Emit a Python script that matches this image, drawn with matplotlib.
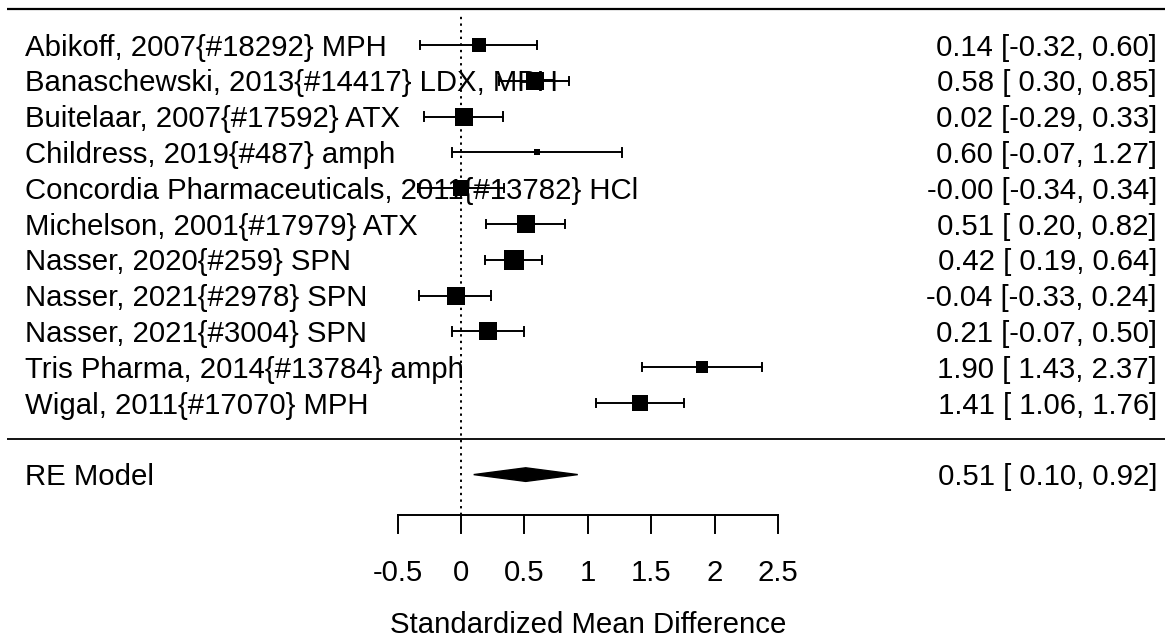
import numpy as np
import matplotlib
matplotlib.use("Agg")
import matplotlib.pyplot as plt
from matplotlib.patches import Polygon

# ---------------- data ----------------
studies = [
    "Abikoff, 2007{#18292} MPH",
    "Banaschewski, 2013{#14417} LDX, MPH",
    "Buitelaar, 2007{#17592} ATX",
    "Childress, 2019{#487} amph",
    "Concordia Pharmaceuticals, 2011{#13782} HCl",
    "Michelson, 2001{#17979} ATX",
    "Nasser, 2020{#259} SPN",
    "Nasser, 2021{#2978} SPN",
    "Nasser, 2021{#3004} SPN",
    "Tris Pharma, 2014{#13784} amph",
    "Wigal, 2011{#17070} MPH",
]
estimates = [0.14, 0.58, 0.02, 0.60, -0.001, 0.51, 0.42, -0.04, 0.21, 1.90, 1.41]
ci_lower = [-0.32, 0.30, -0.29, -0.07, -0.34, 0.20, 0.19, -0.33, -0.07, 1.43, 1.06]
ci_upper = [0.60, 0.85, 0.33, 1.27, 0.34, 0.82, 0.64, 0.24, 0.50, 2.37, 1.76]
model_label = "RE Model"
model_est = 0.51
model_lower = 0.10
model_upper = 0.92
xticks = [-0.5, 0, 0.5, 1, 1.5, 2, 2.5]
xtick_labels = ["-0.5", "0", "0.5", "1", "1.5", "2", "2.5"]
xlabel = "Standardized Mean Difference"

# ---------------- layout ----------------
W, H, DPI = 1165, 637, 100
fig = plt.figure(figsize=(W / DPI, H / DPI), dpi=DPI)
ax = fig.add_axes([0, 0, 1, 1])
ax.set_axis_off()

x0_px, unit_px = 461.0, 126.9      # pixel of x=0 and px per unit
row_px, top_row_px = 35.8, 45.0    # row spacing, pixel of first study row
k = len(studies)
ax.set_xlim(-x0_px / unit_px, (W - x0_px) / unit_px)
ax.set_ylim(k - (H - top_row_px) / row_px, k + top_row_px / row_px)

FS = 21.2
FONT = "Liberation Sans"
cap_shift = 0.716 * FS / 0.72 / 2 / row_px   # half cap height in rows
rows = np.arange(k, 0, -1)

# marker sizes from random-effects (REML) weights, metafor style (plim 0.5-1.5)
est = np.array(estimates)
se = (np.array(ci_upper) - np.array(ci_lower)) / (2 * 1.959964)
vi = se ** 2
tau2 = 0.1
for _ in range(200):
    w = 1 / (vi + tau2)
    mu = np.sum(w * est) / np.sum(w)
    tau2 = max(0.0, np.sum(w ** 2 * ((est - mu) ** 2 - vi)) / np.sum(w ** 2) + 1 / np.sum(w))
wi = 1 / (vi + tau2)
psize = (wi - wi.min()) / (wi.max() - wi.min()) * 1.0 + 0.5

ytr = ax.get_yaxis_transform()

# horizontal rules
for yy, lw in [(k + 1, 1.6), (0, 1.3)]:
    ax.plot([7 / W, 1.0], [yy, yy], transform=ytr, color="black", lw=lw,
            solid_capstyle="butt", zorder=1)

# reference line
ax.plot([0, 0], [-2.13, k + 0.85], color="black", lw=1.4, ls=(0, (1.2, 2.2)), zorder=1)

# labels and annotations
def fmt_col(vals):
    s = [f"{v:.2f}" for v in vals]
    w = max(len(t) for t in s)
    return [t.rjust(w) for t in s]

lb_s = fmt_col(ci_lower + [model_lower])
ub_s = fmt_col(ci_upper + [model_upper])
es_s = fmt_col(estimates + [model_est])
annots = [f"{e} [{l}, {u}]" for e, l, u in zip(es_s, lb_s, ub_s)]

def row_text(x, y, s, ha):
    ax.text(x, y - cap_shift, s, transform=ytr, ha=ha, va="baseline",
            fontsize=FS, family=FONT, zorder=2)

for r, lab, an in zip(rows, studies, annots[:k]):
    row_text(25 / W, r, lab, "left")
    row_text(1157 / W, r, an, "right")
row_text(25 / W, -1, model_label, "left")
row_text(1157 / W, -1, annots[k], "right")

# CIs and squares
cap = 0.12
for r, e, lo, hi, ps in zip(rows, estimates, ci_lower, ci_upper, psize):
    ax.plot([lo, hi], [r, r], color="black", lw=1.4, zorder=3)
    ax.plot([lo, lo], [r - cap, r + cap], color="black", lw=1.4, zorder=3)
    ax.plot([hi, hi], [r - cap, r + cap], color="black", lw=1.4, zorder=3)
    ax.plot([e], [r], marker="s", color="black", ms=12.8 * ps * 0.72,
            mew=0, zorder=4, ls="none")

# summary diamond
dh = 0.19
ax.add_patch(Polygon([[model_lower, -1], [model_est, -1 + dh],
                      [model_upper, -1], [model_est, -1 - dh]],
                     closed=True, facecolor="black", edgecolor="black",
                     lw=1.0, zorder=4))

# x axis
axis_y = -2.13
tick_len = 0.5
ax.plot([xticks[0], xticks[-1]], [axis_y, axis_y], color="black", lw=1.4, zorder=3)
for t, tl in zip(xticks, xtick_labels):
    ax.plot([t, t], [axis_y, axis_y - tick_len], color="black", lw=1.4, zorder=3)
    ax.text(t, axis_y - 1.55 - cap_shift, tl, ha="center", va="baseline",
            fontsize=FS, family=FONT)
ax.text((xticks[0] + xticks[-1]) / 2, axis_y - 3.0 - cap_shift, xlabel, ha="center",
        va="baseline", fontsize=FS, family=FONT)

fig.savefig("out.png", dpi=DPI)
